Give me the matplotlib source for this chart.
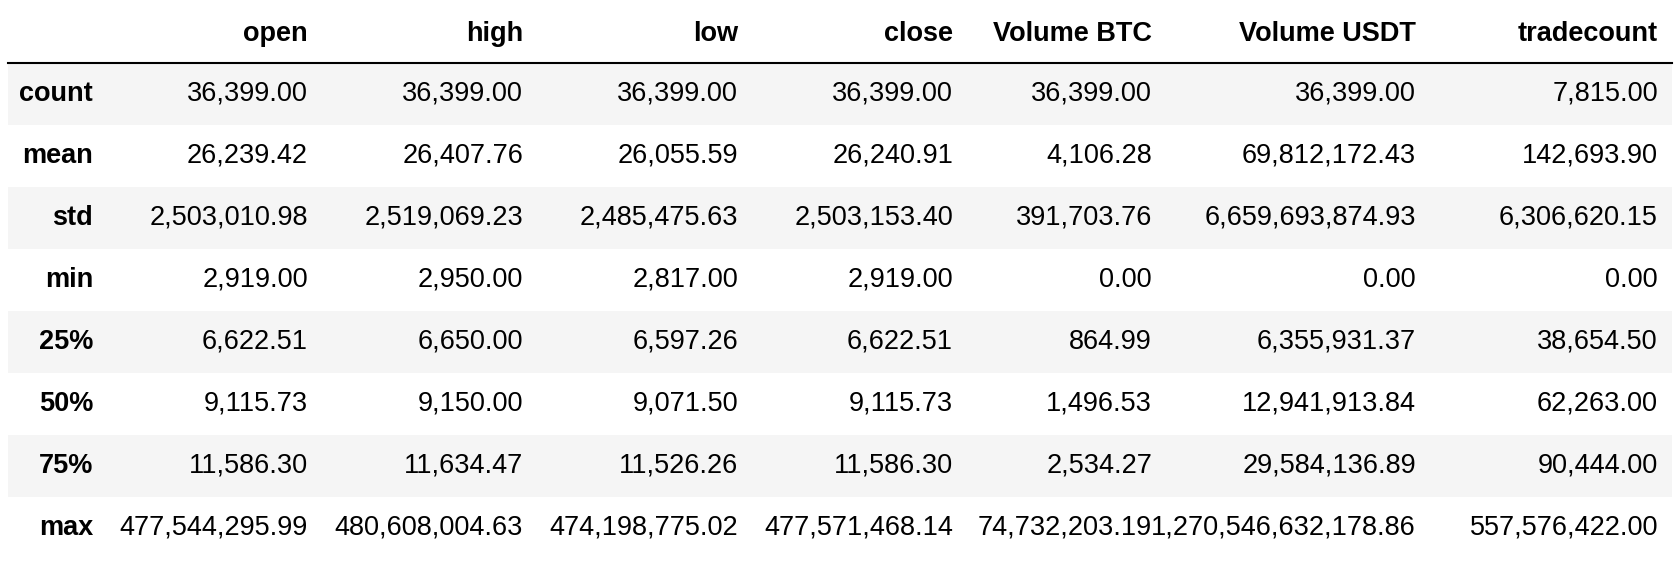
import matplotlib.pyplot as plt
from matplotlib.patches import Rectangle

plt.rcParams['font.family'] = ['Liberation Sans', 'DejaVu Sans']

columns = ["open", "high", "low", "close", "Volume BTC", "Volume USDT", "tradecount"]
row_labels = ["count", "mean", "std", "min", "25%", "50%", "75%", "max"]
cells = [
    ["36,399.00", "36,399.00", "36,399.00", "36,399.00", "36,399.00", "36,399.00", "7,815.00"],
    ["26,239.42", "26,407.76", "26,055.59", "26,240.91", "4,106.28", "69,812,172.43", "142,693.90"],
    ["2,503,010.98", "2,519,069.23", "2,485,475.63", "2,503,153.40", "391,703.76", "6,659,693,874.93", "6,306,620.15"],
    ["2,919.00", "2,950.00", "2,817.00", "2,919.00", "0.00", "0.00", "0.00"],
    ["6,622.51", "6,650.00", "6,597.26", "6,622.51", "864.99", "6,355,931.37", "38,654.50"],
    ["9,115.73", "9,150.00", "9,071.50", "9,115.73", "1,496.53", "12,941,913.84", "62,263.00"],
    ["11,586.30", "11,634.47", "11,526.26", "11,586.30", "2,534.27", "29,584,136.89", "90,444.00"],
    ["477,544,295.99", "480,608,004.63", "474,198,775.02", "477,571,468.14", "74,732,203.19", "1,270,546,632,178.86", "557,576,422.00"],
]

col_right = [308, 523, 738, 953, 1152, 1416, 1658]
label_right = 93
header_y = 34
row_y0, row_step = 94, 62
fs = 19.5

fig = plt.figure(figsize=(16.8, 5.62), dpi=100)
ax = fig.add_axes([0, 0, 1, 1])
ax.set_xlim(0, 1680)
ax.set_ylim(562, 0)
ax.axis("off")

for j, c in enumerate(columns):
    ax.text(col_right[j], header_y, c, ha="right", va="center", fontsize=fs, fontweight="bold", color="black")
ax.plot([8, 1672], [63, 63], color="black", lw=1.5)

for i, lab in enumerate(row_labels):
    y = row_y0 + i * row_step
    if i % 2 == 0:
        ax.add_patch(Rectangle((8, y - row_step / 2), 1664, row_step, color="#f5f5f5", lw=0, zorder=0))
    ax.text(label_right, y, lab, ha="right", va="center", fontsize=fs, fontweight="bold", color="black")
    for j, v in enumerate(cells[i]):
        ax.text(col_right[j], y, v, ha="right", va="center", fontsize=fs, color="black")

fig.savefig("out.png", dpi=100)
